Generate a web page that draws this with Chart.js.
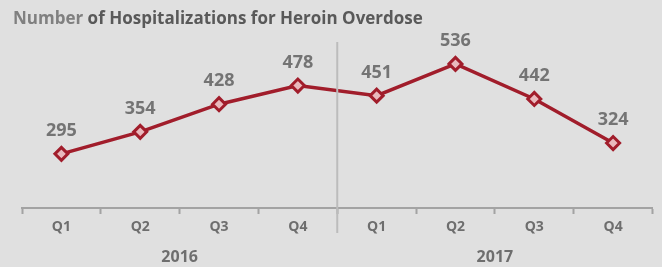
<!DOCTYPE html>
<html>
<head>
<meta charset="utf-8">
<script src="https://cdn.jsdelivr.net/npm/chart.js@4/dist/chart.umd.min.js"></script>
<style>
  html, body { margin: 0; padding: 0; background: #e0e0e0; }
  #wrap { width: 662px; height: 267px; position: relative; }
</style>
</head>
<body>
<div id="wrap"><canvas id="myChart" width="662" height="267"></canvas></div>
<script>
// chart data
const quarters = ['Q1', 'Q2', 'Q3', 'Q4', 'Q1', 'Q2', 'Q3', 'Q4']
const years = ['2016', '2017']
const hospitalizations = [295, 354, 428, 478, 451, 536, 442, 324]
const titleLight = 'Number'
const titleDark = ' of Hospitalizations for Heroin Overdose'

const font = "'Open Sans', 'Liberation Sans', sans-serif"

// title, value labels, year labels and the divider between years
const extras = {
    id: 'extras',
    afterDraw(chart) {
        const ctx = chart.ctx
        const x = chart.scales.x
        ctx.save()

        ctx.textBaseline = 'middle'
        ctx.textAlign = 'left'
        ctx.font = 'bold 17px ' + font
        ctx.fillStyle = '#808080'
        ctx.fillText(titleLight, 13, 19)
        const w = ctx.measureText(titleLight).width
        ctx.fillStyle = '#595959'
        ctx.fillText(titleDark, 13 + w, 19)

        // divider between the two years
        const mid = (x.getPixelForValue(3) + x.getPixelForValue(4)) / 2
        ctx.strokeStyle = '#bcbcbc'
        ctx.lineWidth = 2
        ctx.beginPath()
        ctx.moveTo(mid, 42)
        ctx.lineTo(mid, 233)
        ctx.stroke()

        // year labels under each group of four quarters
        ctx.textAlign = 'center'
        ctx.font = 'bold 16px ' + font
        ctx.fillStyle = '#6e6e6e'
        years.forEach((yr, i) => {
            const cx = (x.getPixelForValue(i * 4 + 1) + x.getPixelForValue(i * 4 + 2)) / 2
            ctx.fillText(yr, cx, 257)
        })

        // value labels above points
        const meta = chart.getDatasetMeta(0)
        ctx.font = 'bold 18px ' + font
        ctx.fillStyle = '#747474'
        meta.data.forEach((pt, i) => {
            ctx.fillText(hospitalizations[i], pt.x, pt.y - 23)
        })
        ctx.restore()
    }
}

const myChartRef = document.getElementById('myChart').getContext('2d')
new Chart(myChartRef, {
    type: 'line',
    data: {
        labels: quarters,
        datasets: [
            {
                label: 'Hospitalizations',
                data: hospitalizations,
                borderColor: '#a11d2b',
                borderWidth: 3.5,
                backgroundColor: '#e9b9bd',
                pointStyle: 'rectRot',
                pointRadius: 6.5,
                pointBorderWidth: 3,
                pointBackgroundColor: '#e9b9bd',
                pointBorderColor: '#a11d2b',
                tension: 0
            }
        ]
    },
    options: {
        responsive: false,
        animation: false,
        events: [],
        layout: { padding: { top: 40, left: 22, right: 5, bottom: 0 } },
        plugins: {
            legend: { display: false },
            tooltip: { enabled: false },
            title: { display: false }
        },
        scales: {
            x: {
                offset: true,
                border: { display: true, color: '#a3a3a3', width: 2 },
                grid: {
                    offset: true,
                    drawOnChartArea: false,
                    drawTicks: true,
                    tickLength: 6,
                    tickWidth: 2,
                    tickColor: '#a3a3a3'
                },
                ticks: {
                    color: '#6e6e6e',
                    font: { family: font, size: 14, weight: 'bold' },
                    padding: 5,
                    autoSkip: false,
                    maxRotation: 0
                },
                afterFit(scale) { scale.height = 59 }
            },
            y: {
                display: false,
                min: 150,
                max: 600
            }
        }
    },
    plugins: [extras]
})
</script>
</body>
</html>
